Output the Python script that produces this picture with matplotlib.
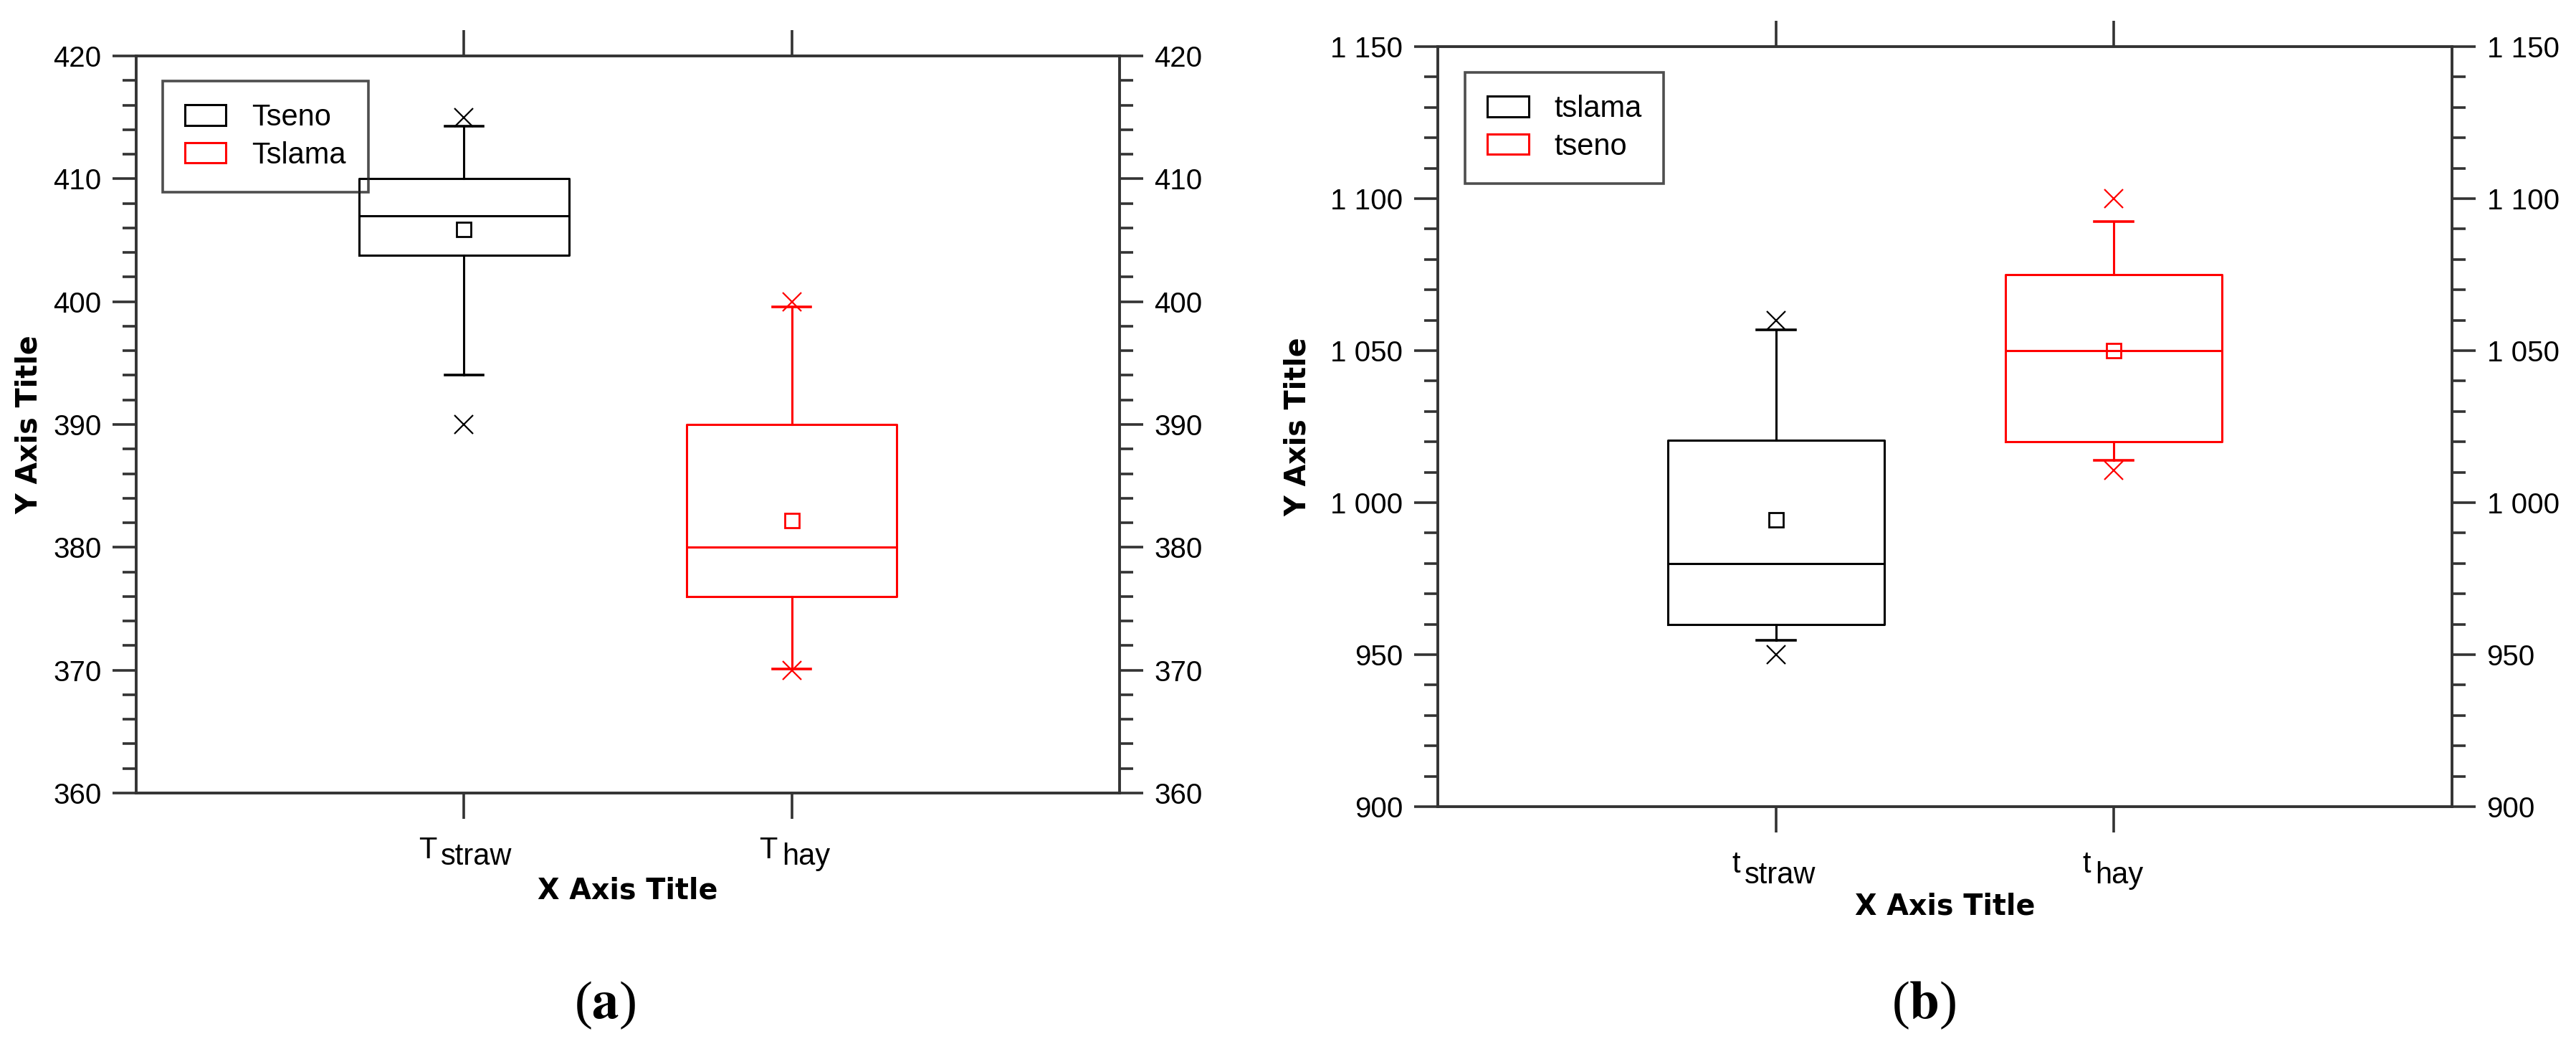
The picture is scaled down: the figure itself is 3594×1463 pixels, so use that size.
import numpy as np
import matplotlib
matplotlib.use("Agg")
import matplotlib.pyplot as plt
from matplotlib.patches import Patch
from matplotlib.ticker import MultipleLocator, FuncFormatter

plt.rcParams['font.family'] = ['Liberation Sans', 'DejaVu Sans']
plt.rcParams['mathtext.fontset'] = 'stix'

# ---- data ----
positions = [1, 2]
cat_main_a = ['T', 'T']
cat_sub_a = ['straw', 'hay']
legend_a = ['Tseno', 'Tslama']
# q1, median, q3, lower whisker, upper whisker, mean, extreme points
q1_a = [403.8, 376.0]
med_a = [407.0, 380.0]
q3_a = [410.0, 390.0]
wlo_a = [394.0, 370.1]
whi_a = [414.3, 399.6]
mean_a = [405.9, 382.2]
ext_a = [[390.0, 415.0], [370.0, 400.0]]

cat_main_b = ['t', 't']
cat_sub_b = ['straw', 'hay']
legend_b = ['tslama', 'tseno']
q1_b = [960.0, 1020.0]
med_b = [980.0, 1050.0]
q3_b = [1020.5, 1075.0]
wlo_b = [954.8, 1014.0]
whi_b = [1056.8, 1092.5]
mean_b = [994.3, 1050.0]
ext_b = [[950.0, 1060.0], [1010.5, 1100.0]]

colors = ['black', '#ff0000']
W, H = 3594, 1463


def draw_panel(ax, q1, med, q3, wlo, whi, mean, ext, labels):
    for i in range(len(positions)):
        c = colors[i]
        st = dict(q1=q1[i], med=med[i], q3=q3[i], whislo=wlo[i], whishi=whi[i],
                  mean=mean[i], fliers=ext[i])
        ax.bxp([st], positions=[positions[i]], widths=0.64, capwidths=0.115,
               showmeans=True, manage_ticks=False,
               boxprops=dict(color=c, lw=2.2),
               whiskerprops=dict(color=c, lw=2.2),
               capprops=dict(color=c, lw=2.6),
               medianprops=dict(color=c, lw=2.2),
               meanprops=dict(marker='s', markerfacecolor='none', markeredgecolor=c,
                              markersize=15, markeredgewidth=2.0),
               flierprops=dict(marker='x', markeredgecolor=c, markersize=19,
                               markeredgewidth=1.6))
    handles = [Patch(facecolor='none', edgecolor=colors[i], lw=2.2) for i in range(2)]
    leg = ax.legend(handles, labels, loc='upper left', bbox_to_anchor=(0.027, 0.966),
                    borderaxespad=0, fontsize=30, fancybox=False, facecolor='none',
                    edgecolor='#222222', handlelength=1.37, handleheight=0.67,
                    handletextpad=0.85, labelspacing=0.3, borderpad=0.75)
    leg.get_frame().set_linewidth(2.6)

    ax.set_xlim(0, 3)
    ax.set_xticks(positions)
    ax.set_xticklabels(['', ''])
    ax.tick_params(axis='x', which='major', top=True, bottom=True, direction='out',
                   length=26, width=2.6, color='#333333')
    ax.tick_params(axis='y', which='both', left=True, right=True, labelleft=True,
                   labelright=True, direction='out', width=2.6, color='#333333',
                   labelsize=29, pad=11)
    ax.tick_params(axis='y', which='major', length=24)
    ax.tick_params(axis='y', which='minor', length=14)
    for s in ax.spines.values():
        s.set_linewidth(2.8)
        s.set_color('#333333')


def cat_labels(ax, mains, subs, offs, base, shift):
    for p, m, s, (dm, ds) in zip(positions, mains, subs, offs):
        ax.annotate(m, xy=(p, 0), xycoords=('data', 'axes fraction'),
                    xytext=(dm, -base), textcoords='offset pixels',
                    ha='right', va='baseline', fontsize=30, annotation_clip=False)
        ax.annotate(s, xy=(p, 0), xycoords=('data', 'axes fraction'),
                    xytext=(ds, -base - shift), textcoords='offset pixels',
                    ha='left', va='baseline', fontsize=30, annotation_clip=False)


fig = plt.figure(figsize=(W / 100, H / 100), dpi=100)

# panel (a)
ax1 = fig.add_axes([190 / W, 1 - 1106 / H, 1372 / W, 1028 / H])
draw_panel(ax1, q1_a, med_a, q3_a, wlo_a, whi_a, mean_a, ext_a, legend_a)
ax1.set_ylim(360, 420)
ax1.yaxis.set_major_locator(MultipleLocator(10))
ax1.yaxis.set_minor_locator(MultipleLocator(2))
cat_labels(ax1, cat_main_a, cat_sub_a, [(-38, -32), (-20, -14)], 91, 9)

# panel (b)
ax2 = fig.add_axes([2006 / W, 1 - 1125 / H, 1415 / W, 1060 / H])
draw_panel(ax2, q1_b, med_b, q3_b, wlo_b, whi_b, mean_b, ext_b, legend_b)
ax2.set_ylim(900, 1150)
ax2.yaxis.set_major_locator(MultipleLocator(50))
ax2.yaxis.set_minor_locator(MultipleLocator(10))
ax2.yaxis.set_major_formatter(FuncFormatter(lambda v, p: f"{v:,.0f}".replace(',', ' ')))
cat_labels(ax2, cat_main_b, cat_sub_b, [(-50, -44), (-32, -26)], 92, 15)

for ax, xl, yl in [(ax1, -0.133, -0.109), (ax2, -0.132, -0.138)]:
    ax.set_xlabel('X Axis Title', family='DejaVu Sans', fontweight='bold', fontsize=28.5,
                  va='center')
    ax.xaxis.set_label_coords(0.5, xl)
    ax.set_ylabel('Y Axis Title', family='DejaVu Sans', fontweight='bold', fontsize=28.5,
                  va='center')
    ax.yaxis.set_label_coords(yl, 0.5)

fig.text(844 / W, 1 - 1402 / H, r'($\mathbf{a}$)', fontsize=54, family='Liberation Serif',
         ha='center', va='center')
fig.text(2684 / W, 1 - 1402 / H, r'($\mathbf{b}$)', fontsize=54, family='Liberation Serif',
         ha='center', va='center')

fig.savefig('out.png', dpi=100, facecolor='white')
